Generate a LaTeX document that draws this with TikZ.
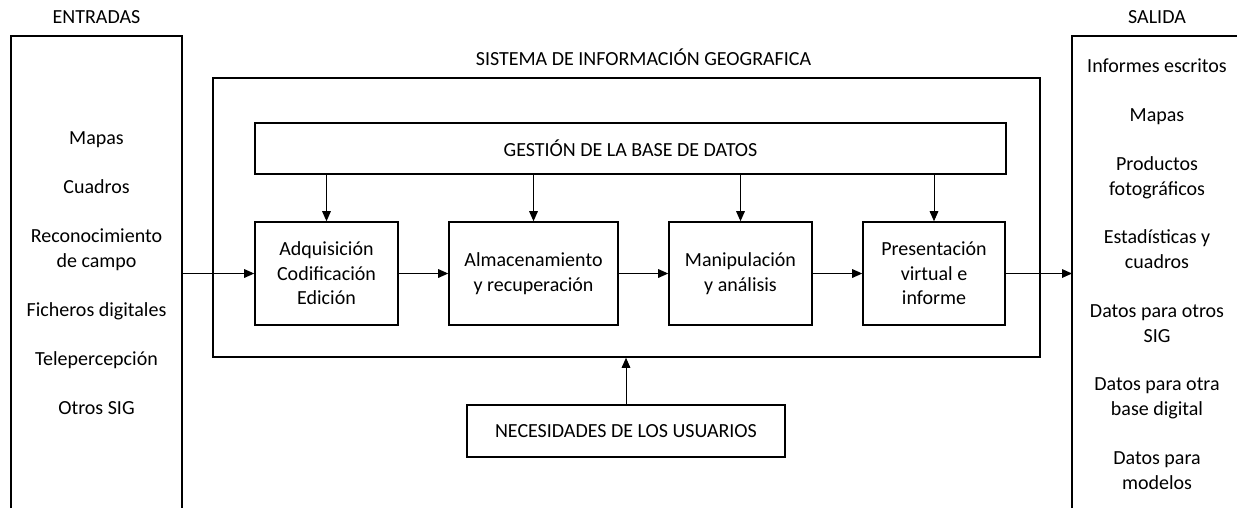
\documentclass[tikz,border=0pt]{standalone}
\usepackage{fontspec}
\setmainfont{Carlito}
\usetikzlibrary{arrows.meta}

\begin{document}
\begin{tikzpicture}[x=0.75pt,y=-0.75pt,
		font=\fontsize{15pt}{18.4pt}\selectfont,
		caja/.style={draw, line width=1.2pt, inner sep=0pt, align=center, minimum height=77.25pt},
		flecha/.style={line width=0.7pt, -{Triangle[length=7.5pt,width=6.5pt]}},
		lista/.style={anchor=base, align=center, inner sep=0pt}]
				\useasboundingbox (0,0) rectangle (1237,508);

				% entradas (open at the bottom)
				% y = baseline of the last line
				\draw[line width=1.2pt] (11,508)--(11,36)--(182,36)--(182,508);
				\node[lista] (entradas) at (96.5,23.5) {ENTRADAS};
				\foreach \y/\t [count=\i] in {144.5/Mapas, 193.5/Cuadros, 267/{Reconocimiento\\de campo},
						316/Ficheros digitales, 365/Telepercepción, 414/Otros SIG}
					{
						\node[lista] (ent\i) at (96.5,\y) {\t};
					}

				% salida (open at the right and bottom)
				\draw[line width=1.2pt] (1072,508)--(1072,36)--(1237,36);
				\node[lista] (salida) at (1157,23.5) {SALIDA};
				\foreach \y/\t [count=\i] in {72.5/Informes escritos, 121.5/Mapas, 195/{Productos\\fotográficos},
						268.5/{Estadísticas y\\cuadros}, 342/{Datos para otros\\SIG}, 415.5/{Datos para otra\\base digital},
						489/{Datos para\\modelos}}
					{
						\node[lista] (sal\i) at (1157,\y) {\t};
					}

				% sistema de informacion geografica
				\node[caja, minimum width=620.25pt, minimum height=209.25pt] (sig) at (626.5,217.5) {};
				\node[lista] (sigtit) at (643.5,65.5) {SISTEMA DE INFORMACIÓN GEOGRAFICA};

				\node[caja, minimum width=563.25pt, minimum height=38.25pt] (gestion) at (630.5,148.5) {GESTIÓN DE LA BASE DE DATOS};

				\node[caja, minimum width=107.25pt] (adq) at (326.5,273.5) {Adquisición\\Codificación\\Edición};
				\node[caja, minimum width=126.75pt] (alm) at (533.5,273.5) {Almacenamiento\\y recuperación};
				\node[caja, minimum width=107.25pt] (man) at (740.5,273.5) {Manipulación\\y análisis};
				\node[caja, minimum width=106.5pt] (pre) at (934,273.5) {Presentación\\virtual e\\informe};

				\node[caja, minimum width=238.5pt, minimum height=39pt] (usu) at (626,431) {NECESIDADES DE LOS USUARIOS};

				% connectors
				\coordinate (entR) at (182,273.5);
				\coordinate (salL) at (1072,273.5);
				\draw[flecha] (entR) -- (adq.west);
				\draw[flecha] (adq) -- (alm);
				\draw[flecha] (alm) -- (man);
				\draw[flecha] (man) -- (pre);
				\draw[flecha] (pre.east) -- (salL);
				\foreach \b in {adq,alm,man,pre}
					{
						\draw[flecha] (gestion.south -| \b) -- (\b.north);
					}
				\draw[flecha] (usu.north) -- (sig.south -| usu);
			\end{tikzpicture}
\end{document}
